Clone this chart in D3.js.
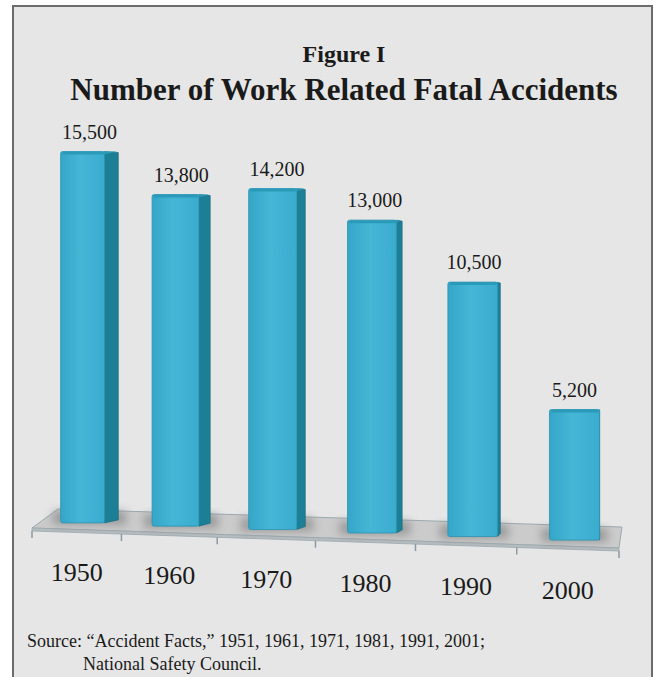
<!DOCTYPE html>
<html>
<head>
<meta charset="utf-8">
<script src="https://cdn.jsdelivr.net/npm/d3@7"></script>
<style>
  html, body { margin: 0; padding: 0; background: #fff; }
  svg { display: block; }
</style>
</head>
<body>
<svg id="chart" width="655" height="677"></svg>
<script>
// data
const years = ["1950", "1960", "1970", "1980", "1990", "2000"];
const fatalities = [15500, 13800, 14200, 13000, 10500, 5200];
const valueLabels = ["15,500", "13,800", "14,200", "13,000", "10,500", "5,200"];

const svg = d3.select("#chart");

// panel
svg.append("rect")
  .attr("x", 13).attr("y", 6)
  .attr("width", 639).attr("height", 690)
  .attr("fill", "#e6e6e6")
  .attr("stroke", "#6b6b6b")
  .attr("stroke-width", 2);

const defs = svg.append("defs");
const grad = defs.append("linearGradient").attr("id", "front")
  .attr("x1", "0").attr("x2", "1").attr("y1", "0").attr("y2", "0");
grad.append("stop").attr("offset", "0%").attr("stop-color", "#36a6c8");
grad.append("stop").attr("offset", "45%").attr("stop-color", "#46b6d7");
grad.append("stop").attr("offset", "100%").attr("stop-color", "#3aaccd");
defs.append("filter").attr("id", "blur")
  .attr("x", "-50%").attr("y", "-50%").attr("width", "200%").attr("height", "200%")
  .append("feGaussianBlur").attr("stdDeviation", 4);

// titles
svg.append("text")
  .attr("x", 344).attr("y", 62)
  .attr("text-anchor", "middle")
  .style("font-family", "'Liberation Serif', 'Times New Roman', serif")
  .style("font-weight", "bold")
  .style("font-size", "24px")
  .attr("fill", "#1a1a1a")
  .text("Figure I");

svg.append("text")
  .attr("x", 344).attr("y", 100)
  .attr("text-anchor", "middle")
  .style("font-family", "'Liberation Serif', 'Times New Roman', serif")
  .style("font-weight", "bold")
  .style("font-size", "31px")
  .attr("fill", "#1a1a1a")
  .text("Number of Work Related Fatal Accidents");

// the floor is drawn in perspective, so the category slots widen to the right
const xScale = d3.scalePow()
  .exponent(1.05)
  .domain([0, years.length])
  .range([32, 619]);

const yScale = d3.scaleLinear()
  .domain([0, 16000])
  .range([0, 374]);

const floorY = (x) => 528 + (x - 32) * 0.0341;
const baseY = (x) => 523 + (x - 86) * 0.035;
const labelY = (x) => 581 + (x - 78) * 0.0368;

const x0 = xScale(0);
const x6 = xScale(years.length);

// floor slab
svg.append("polygon")
  .attr("points", [
    [x0 + 26, floorY(x0) - 19],
    [x6 + 3, floorY(x6) - 21],
    [x6, floorY(x6)],
    [x0, floorY(x0)]
  ].map((p) => p.join(",")).join(" "))
  .attr("fill", "#cbcbcb")
  .attr("stroke", "#9aa9b0")
  .attr("stroke-width", 1);

svg.append("polygon")
  .attr("points", [
    [x0, floorY(x0)],
    [x6, floorY(x6)],
    [x6, floorY(x6) + 3],
    [x0, floorY(x0) + 3]
  ].map((p) => p.join(",")).join(" "))
  .attr("fill", "#b7bcbf")
  .attr("stroke", "#9aa9b0")
  .attr("stroke-width", 0.8);

// ticks along the front edge
svg.selectAll("line.tick")
  .data(d3.range(years.length + 1))
  .enter()
  .append("line")
  .classed("tick", true)
  .attr("x1", (d) => xScale(d))
  .attr("x2", (d) => xScale(d))
  .attr("y1", (d) => floorY(xScale(d)) + 3)
  .attr("y2", (d) => floorY(xScale(d)) + 10)
  .attr("stroke", "#8a9aa2")
  .attr("stroke-width", 1.5);

// bar geometry
const bars = years.map((year, i) => {
  const b0 = xScale(i);
  const b1 = xScale(i + 1);
  const w = b1 - b0;
  const left = b0 + 0.32 * w;
  const fw = 0.49 * w;
  const right = left + fw;
  const depth = Math.max(0, (600 - right) * 0.028);
  const cx = left + fw / 2;
  const base = baseY(cx);
  const top = base - 9 - yScale(fatalities[i]);
  return { year, value: fatalities[i], label: valueLabels[i], b0, b1, left, fw, right, depth, cx, base, top };
});

// soft shadows on the floor
svg.selectAll("rect.shadow")
  .data(bars)
  .enter()
  .append("rect")
  .classed("shadow", true)
  .attr("x", (d) => d.left - 8)
  .attr("y", (d) => d.base - 12)
  .attr("width", (d) => d.fw + d.depth + 16)
  .attr("height", 14)
  .attr("fill", "#7d7d7d")
  .attr("opacity", 0.6)
  .attr("filter", "url(#blur)");

const barG = svg.selectAll("g.bar")
  .data(bars)
  .enter()
  .append("g")
  .classed("bar", true);

barG.append("polygon")
  .attr("points", (d) => [
    [d.right, d.top],
    [d.right + d.depth, d.top + 1],
    [d.right + d.depth, d.base - 3],
    [d.right, d.base]
  ].map((p) => p.join(",")).join(" "))
  .attr("fill", "#1c7f96")
  .attr("stroke", "#17687b")
  .attr("stroke-width", 0.6);

barG.append("rect")
  .attr("x", (d) => d.left)
  .attr("y", (d) => d.top)
  .attr("width", (d) => d.fw)
  .attr("height", (d) => d.base - d.top)
  .attr("rx", 2)
  .attr("fill", "url(#front)")
  .attr("stroke", "#2a93b1")
  .attr("stroke-width", 0.8);

barG.append("polygon")
  .attr("points", (d) => [
    [d.left + 1, d.top + 3],
    [d.left + 3, d.top],
    [d.right + d.depth - 1, d.top],
    [d.right - 1, d.top + 3]
  ].map((p) => p.join(",")).join(" "))
  .attr("fill", "#2b9ab9");

// value labels
svg.selectAll("text.value")
  .data(bars)
  .enter()
  .append("text")
  .classed("value", true)
  .attr("x", (d) => d.left + (d.fw + d.depth) / 2)
  .attr("y", (d) => d.top - 13)
  .attr("text-anchor", "middle")
  .style("font-family", "'Liberation Serif', 'Times New Roman', serif")
  .style("font-size", "20px")
  .attr("fill", "#1a1a1a")
  .text((d) => d.label);

// category labels
svg.selectAll("text.year")
  .data(bars)
  .enter()
  .append("text")
  .classed("year", true)
  .attr("x", (d) => (d.b0 + d.b1) / 2)
  .attr("y", (d) => labelY((d.b0 + d.b1) / 2))
  .attr("text-anchor", "middle")
  .style("font-family", "'Liberation Serif', 'Times New Roman', serif")
  .style("font-size", "26px")
  .attr("fill", "#1a1a1a")
  .text((d) => d.year);

// source note
const source = svg.append("text")
  .style("font-family", "'Liberation Serif', 'Times New Roman', serif")
  .style("font-size", "18px")
  .attr("fill", "#1a1a1a");
source.append("tspan")
  .attr("x", 27).attr("y", 647)
  .text("Source: \u201CAccident Facts,\u201D 1951, 1961, 1971, 1981, 1991, 2001;");
source.append("tspan")
  .attr("x", 83).attr("y", 670)
  .text("National Safety Council.");
</script>
</body>
</html>
